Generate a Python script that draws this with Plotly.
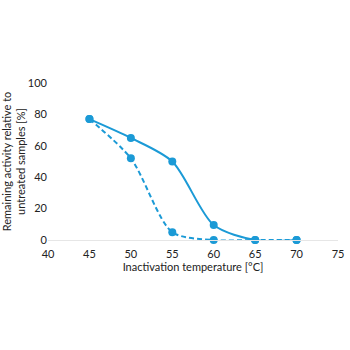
import plotly.graph_objects as go

temps = [45, 50, 55, 60, 65, 70]
solid_vals = [77, 65, 50, 9.5, 0, 0]
dashed_vals = [77, 52, 5, 0, 0, 0]
color = "#1b9ad6"

fig = go.Figure()
fig.add_trace(go.Scatter(x=temps, y=solid_vals, mode="lines+markers",
                         line=dict(color=color, width=2, shape="spline", smoothing=0.8),
                         marker=dict(size=8, color=color), showlegend=False, cliponaxis=False))
fig.add_trace(go.Scatter(x=temps, y=dashed_vals, mode="lines+markers",
                         line=dict(color=color, width=2, shape="spline", dash="5px,3px", smoothing=0.8),
                         marker=dict(size=8, color=color), showlegend=False, cliponaxis=False))

fig.update_layout(
    width=350, height=350,
    margin=dict(l=48, r=12, t=83, b=110),
    plot_bgcolor="white", paper_bgcolor="white",
    font=dict(family="Lato, Open Sans, sans-serif", size=11, color="#222"),
    xaxis=dict(range=[40, 75], tickvals=[40, 45, 50, 55, 60, 65, 70, 75],
               showgrid=False, zeroline=False, showline=True, linecolor="#e6e6e6",
               ticks="outside", ticklen=4, tickcolor="rgba(0,0,0,0)",
               automargin=False,
               title=dict(text="Inactivation temperature [°C]", standoff=4,
                          font=dict(size=11))),
    yaxis=dict(range=[0, 100], tickvals=[0, 20, 40, 60, 80, 100],
               showgrid=False, zeroline=False, showline=False, ticks="",
               automargin=False,
               title=dict(text="Remaining activity relative to<br>untreated samples [%]",
                          standoff=4, font=dict(size=11))),
)
fig.write_html("out.html")
